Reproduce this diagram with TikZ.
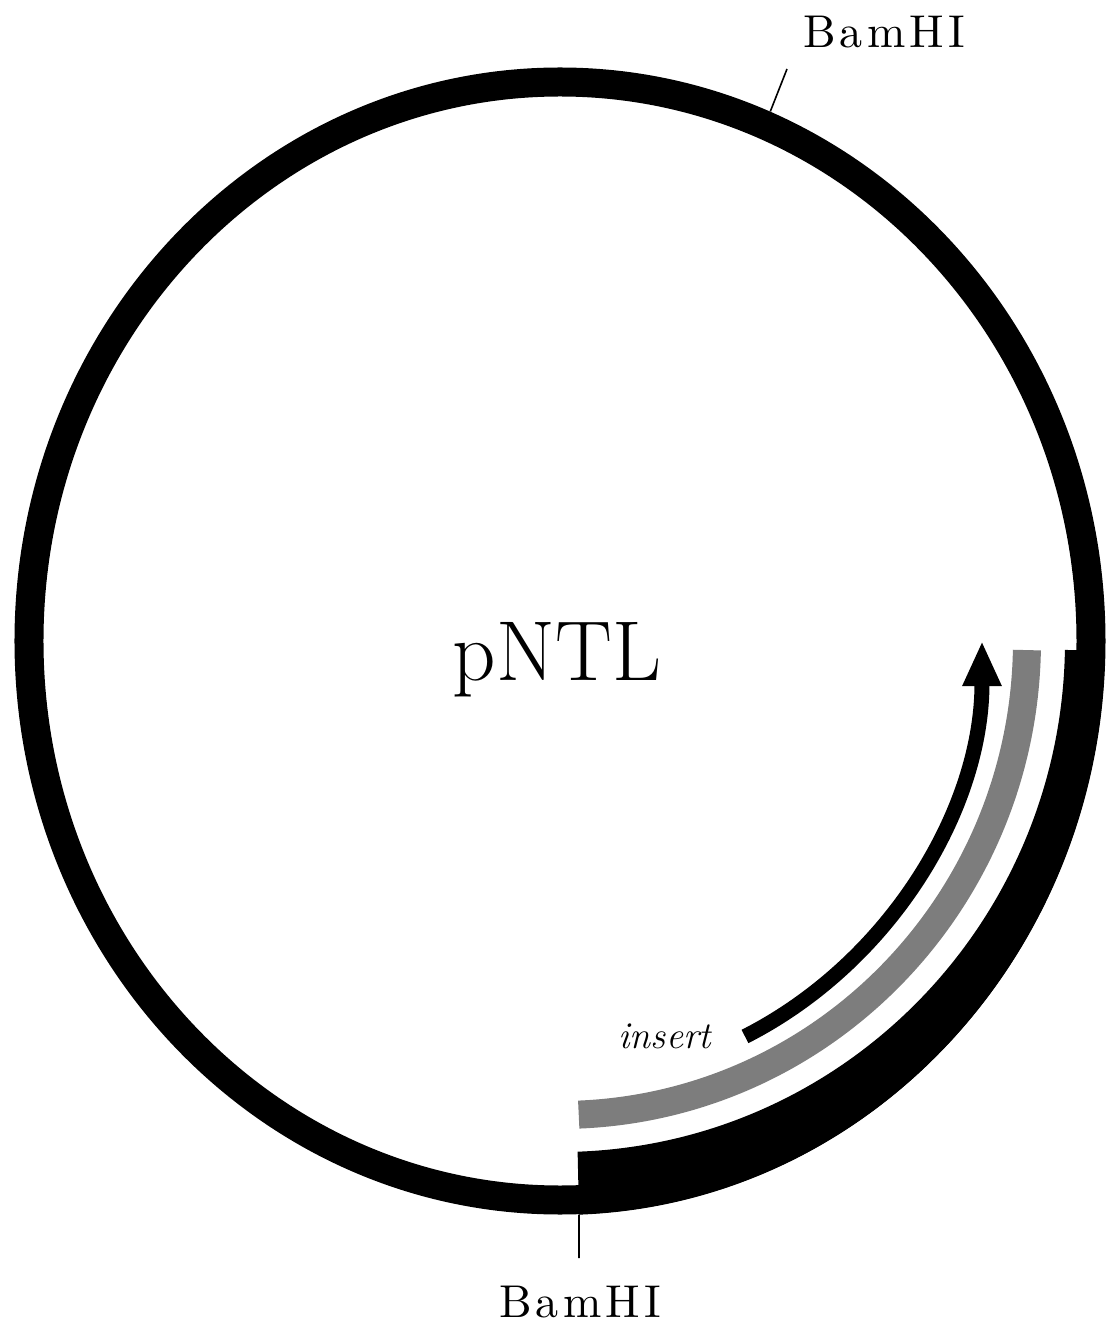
\documentclass[tikz,border=0pt]{standalone}
\usepackage{fontspec}
\usepackage{xcolor}
\usepackage{tikz}
\usetikzlibrary{arrows.meta}
\definecolor{GrisInserto}{RGB}{125,125,125}
\newfontfamily\sitiofont[LetterSpace=9]{lmroman10-regular.otf}

\begin{document}
\begin{tikzpicture}[x=1pt,y=1pt,
  anillo/.style={line width=29pt},
  sitio/.style={line width=1.6pt},
  etiqueta/.style={font=\sitiofont\fontsize{46}{52}\selectfont,inner sep=0pt,anchor=base}]
  \useasboundingbox (-560,-684) rectangle (546,641);
  \coordinate (O) at (0,0);
  % plasmid ring
  \draw[anillo] (O) ellipse [x radius=531, y radius=559];
  % thick segment of the vector
  \fill (-88:545 and 574) arc[start angle=-88,end angle=-1,x radius=545,y radius=574]
    -- (-1:505 and 511) arc[start angle=-1,end angle=-88,x radius=505,y radius=511] -- cycle;
  % insert
  \draw[line width=28pt,GrisInserto] (-87.7:467 and 474)
    arc[start angle=-87.7,end angle=-1.1,x radius=467,y radius=474];
  % orientation of the insert
  \draw[line width=15pt,-{Triangle[length=45pt,width=36pt]}] (-64:422 and 440)
    arc[start angle=-64,end angle=0,x radius=422,y radius=440];
  \node[font=\fontsize{85}{96}\selectfont,anchor=base] (nombre) at (-3,-39) {pNTL};
  \node[font=\itshape\fontsize{38}{44}\selectfont,anchor=base west] (inserto) at (55,-407) {insert};
  % BamHI sites
  \coordinate (sitioA) at (67.3:545 and 574);
  \coordinate (sitioB) at (-88:545 and 574);
  \coordinate (finA) at (227,572);
  \coordinate (finB) at (19,-617);
  \node[etiqueta] (bamA) at (324,593) {BamHI};
  \node[etiqueta] (bamB) at (20,-676) {BamHI};
  \draw[sitio] (sitioA) -- (finA);
  \draw[sitio] (sitioB) -- (finB);
\end{tikzpicture}
\end{document}
